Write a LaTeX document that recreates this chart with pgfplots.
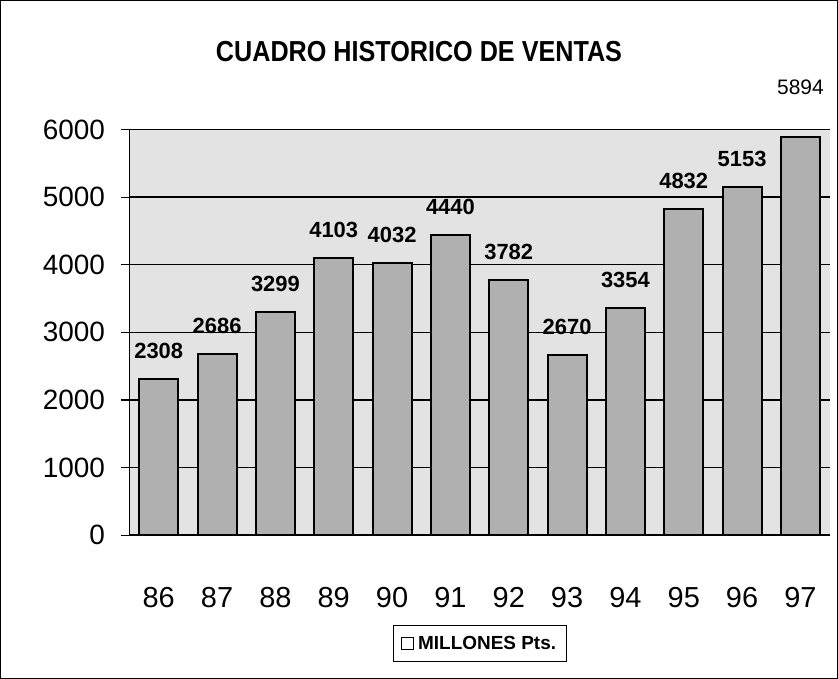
\documentclass[border=0pt]{standalone}
\usepackage{pgfplots}
\pgfplotsset{compat=1.18}
\usepackage{fontspec}
\setmainfont{Liberation Sans}
\begin{document}
\begin{tikzpicture}
\begin{axis}[
  scale only axis, width=699bp, height=405bp,
  xmin=-0.5, xmax=11.5, ymin=0, ymax=6000,
  ybar, bar width=39bp,
  xtick={0,...,11},
  xticklabels={86,87,88,89,90,91,92,93,94,95,96,97},
  ytick={0,1000,...,6000},
  axis x line*=bottom, axis y line*=left,
  axis line style={-, line width=1.2pt},
  x tick style={draw=none},
  y tick style={line width=1.2pt, black},
  tick align=outside, major tick length=9bp,
  ymajorgrids, grid style={black, line width=1.4pt},
  axis background/.style={fill=gray!22},
  xticklabel style={font=\fontsize{29}{32}\selectfont, yshift=-40bp},
  yticklabel style={font=\fontsize{28}{32}\selectfont, xshift=-12bp},
  /pgf/number format/assume math mode=true,
  /pgf/number format/1000 sep={},
  legend style={at={(0.5,-0.2667)}, anchor=center, draw=black, line width=0.8pt,
    font=\bfseries\fontsize{19}{22}\selectfont, inner xsep=8bp, inner ysep=9bp},
  legend image code/.code={\draw[fill=white, line width=1pt] (0bp,-6bp) rectangle (12bp,6bp);},
  legend cell align=left,
  clip=false,
]
\coordinate (tl) at (rel axis cs:0,1);
\coordinate (br) at (rel axis cs:1,0);
\addplot[fill=gray!62, draw=black, line width=2pt, bar shift=0pt,
  nodes near coords,
  nodes near coords style={font=\bfseries\fontsize{22}{26}\selectfont, anchor=center, yshift=28bp, /pgf/number format/1000 sep={}}]
  coordinates {(0,2308) (1,2686) (2,3299) (3,4103) (4,4032) (5,4440) (6,3782) (7,2670) (8,3354) (9,4832) (10,5153)};
\addlegendentry{\hspace{2bp}MILLONES Pts.}
\addplot[fill=gray!62, draw=black, line width=2pt, bar shift=0pt, forget plot,
  nodes near coords,
  nodes near coords style={font=\fontsize{21}{25}\selectfont, anchor=center, yshift=49bp, /pgf/number format/1000 sep={}}]
  coordinates {(11,5894)};
\end{axis}
\draw[line width=0.8pt] ([xshift=-129bp,yshift=129bp]tl) rectangle ([xshift=8bp,yshift=-143bp]br);
\node[font=\bfseries\fontsize{29}{34}\selectfont, xscale=0.87] at ([xshift=289bp,yshift=78bp]tl) {CUADRO HISTORICO DE VENTAS};
\end{tikzpicture}
\end{document}
